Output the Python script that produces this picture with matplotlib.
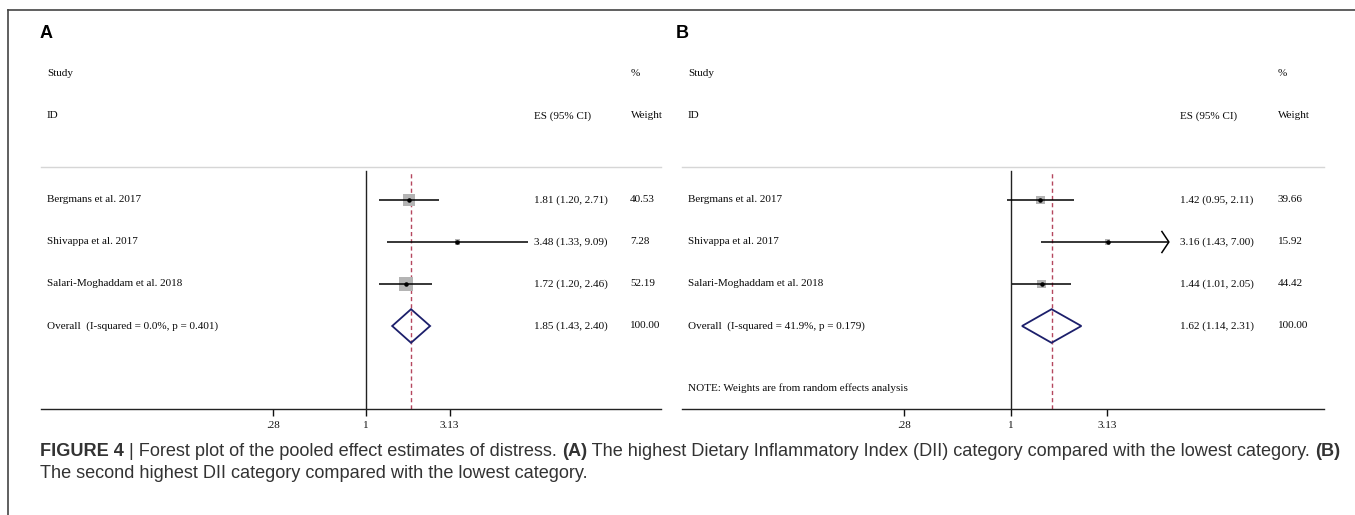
import matplotlib
matplotlib.use("Agg")
import matplotlib.pyplot as plt
import numpy as np
from matplotlib.patches import Polygon
from matplotlib.lines import Line2D
from matplotlib.ticker import NullLocator
import matplotlib.transforms as mtransforms

# ---------------- data ----------------
studies = ["Bergmans et al. 2017", "Shivappa et al. 2017", "Salari-Moghaddam et al. 2018"]

es_a = [1.81, 3.48, 1.72]
lo_a = [1.20, 1.33, 1.20]
hi_a = [2.71, 9.09, 2.46]
wt_a = [40.53, 7.28, 52.19]
overall_a = (1.85, 1.43, 2.40)
overall_label_a = "Overall  (I-squared = 0.0%, p = 0.401)"

es_b = [1.42, 3.16, 1.44]
lo_b = [0.95, 1.43, 1.01]
hi_b = [2.11, 7.00, 2.05]
wt_b = [39.66, 15.92, 44.42]
overall_b = (1.62, 1.14, 2.31)
overall_label_b = "Overall  (I-squared = 41.9%, p = 0.179)"

tick_vals = [0.28, 1, 3.13]
tick_labels = [".28", "1", "3.13"]

note_b = "NOTE: Weights are from random effects analysis"

# ---------------- layout ----------------
W, H = 1355, 515
fig = plt.figure(figsize=(W / 100, H / 100), dpi=100)
fig.patch.set_facecolor("white")

SERIF = ["Liberation Serif", "DejaVu Serif"]
SANS = ["Liberation Sans", "DejaVu Sans"]
NARROW = ["Liberation Sans Narrow", "Liberation Sans", "DejaVu Sans"]
FS = 8.0


def fx(px):
    return px / W


def fy(py):
    return 1 - py / H


ROW0, STEP = 200, 42
AX_TOP, AX_BOT = 167, 409


def fmt_ci(e, l, h):
    return f"{e:.2f} ({l:.2f}, {h:.2f})"


def xlim_scale(ax):
    # pixels per unit of ln(x) for the axes
    x0, x1 = ax.get_xlim()
    bb = ax.get_position()
    return bb.width * W / (np.log(x1) - np.log(x0))


def panel(left_px, right_px, xlim, cols, es, lo, hi, wt, overall, olabel,
          box_k, clip_hi=None, note=None):
    ax = fig.add_axes([fx(left_px), fy(AX_BOT), (right_px - left_px) / W,
                       (AX_BOT - AX_TOP) / H])
    ax.set_xscale("log")
    ax.set_xlim(*xlim)
    ax.set_ylim((AX_BOT - ROW0) / STEP, (AX_TOP - ROW0) / STEP)
    for s in ("left", "right"):
        ax.spines[s].set_visible(False)
    ax.spines["top"].set_color("#d6d6d6")
    ax.spines["top"].set_linewidth(1.0)
    ax.spines["bottom"].set_color("#222222")
    ax.spines["bottom"].set_linewidth(1.0)
    ax.set_yticks([])
    ax.set_xticks(tick_vals)
    ax.set_xticklabels(tick_labels, fontfamily=SERIF, fontsize=FS)
    ax.xaxis.set_minor_locator(NullLocator())
    ax.tick_params(axis="x", direction="out", length=5, width=1.0, pad=4,
                   colors="#111111")

    ax.axvline(1, ymin=0, ymax=0.985, color="#222222", lw=1.0, zorder=1)
    ax.axvline(overall[0], ymin=0, ymax=0.985, color="#b5475e", lw=1.0,
               ls=(0, (3, 2.2)), zorder=1)

    for i in range(len(es)):
        right = hi[i]
        arrow = False
        if clip_hi is not None and hi[i] > clip_hi:
            right = clip_hi
            arrow = True
        ax.plot([lo[i], right], [i, i], color="black", lw=1.1,
                solid_capstyle="butt", zorder=3)
        if arrow:
            dx = np.exp(-7 / xlim_scale(ax))
            ax.plot([right * dx, right, right * dx], [i - 0.25, i, i + 0.25],
                    color="black", lw=1.1, zorder=3)
        side_pt = box_k * np.sqrt(wt[i]) * 0.72
        ax.scatter([es[i]], [i], marker="s", s=side_pt ** 2, color="#b4b4b4",
                   edgecolors="none", zorder=2)
        ax.scatter([es[i]], [i], marker="o", s=5, color="black", zorder=4)

    oi = len(es)
    e, l, h = overall
    dh = 0.40
    ax.add_patch(Polygon([[l, oi], [e, oi - dh], [h, oi], [e, oi + dh]],
                         closed=True, fill=False, edgecolor="#1c1f6b",
                         lw=1.3, zorder=3))

    tr = mtransforms.blended_transform_factory(fig.transFigure, ax.transData)
    kw = dict(transform=tr, fontfamily=SERIF, fontsize=FS, va="center",
              ha="left", color="#0a0a0a", clip_on=False)
    sx, ex, wx, pctx, esh = cols
    ax.text(fx(sx), -3, "Study", **kw)
    ax.text(fx(sx), -2, "ID", **kw)
    ax.text(fx(pctx), -3, "%", **kw)
    ax.text(fx(esh), -2, "ES (95% CI)", **kw)
    ax.text(fx(pctx), -2, "Weight", **kw)
    for i, name in enumerate(studies):
        ax.text(fx(sx), i, name, **kw)
        ax.text(fx(ex), i, fmt_ci(es[i], lo[i], hi[i]), **kw)
        ax.text(fx(wx), i, f"{wt[i]:.2f}", **kw)
    ax.text(fx(sx), oi, olabel, **kw)
    ax.text(fx(ex), oi, fmt_ci(e, l, h), **kw)
    ax.text(fx(wx), oi, "100.00", **kw)
    if note:
        ax.text(fx(sx), (388 - ROW0) / STEP, note, **kw)
    return ax


panel(41, 661, (np.exp(-4.44), np.exp(4.03)), (47, 534, 630, 631, 534),
      es_a, lo_a, hi_a, wt_a, overall_a, overall_label_a, box_k=1.885)
panel(682, 1324, (np.exp(-3.917), np.exp(3.726)), (688, 1180, 1278, 1278, 1180),
      es_b, lo_b, hi_b, wt_b, overall_b, overall_label_b, box_k=1.318,
      clip_hi=6.55, note=note_b)

# panel letters
fig.text(fx(40), fy(33), "A", fontfamily=SANS, fontweight="bold", fontsize=13,
         va="center", ha="left", color="black")
fig.text(fx(676), fy(33), "B", fontfamily=SANS, fontweight="bold", fontsize=13,
         va="center", ha="left", color="black")

# frame
fig.add_artist(Line2D([fx(8), 1.0], [fy(10), fy(10)], transform=fig.transFigure,
                      color="#444444", lw=1.2))
fig.add_artist(Line2D([fx(8), fx(8)], [fy(10), 0.0], transform=fig.transFigure,
                      color="#444444", lw=1.2))

# caption with mixed weights
renderer = fig.canvas.get_renderer()
CAP_FS = 13.05
CAP_COL = "#333333"


def runs(x_px, y_px, parts):
    x = x_px
    for text, weight in parts:
        t = fig.text(fx(x), fy(y_px), text, fontfamily=NARROW, fontsize=CAP_FS,
                     fontweight=weight, va="center", ha="left", color=CAP_COL)
        bb = t.get_window_extent(renderer)
        x += bb.width


runs(40, 451, [("FIGURE 4", "bold"), (" | Forest plot of the pooled effect estimates of distress. ", "normal"),
               ("(A)", "bold"),
               (" The highest Dietary Inflammatory Index (DII) category compared with the lowest category. ", "normal"),
               ("(B)", "bold")])
runs(40, 473, [("The second highest DII category compared with the lowest category.", "normal")])

fig.savefig("out.png", dpi=100)
